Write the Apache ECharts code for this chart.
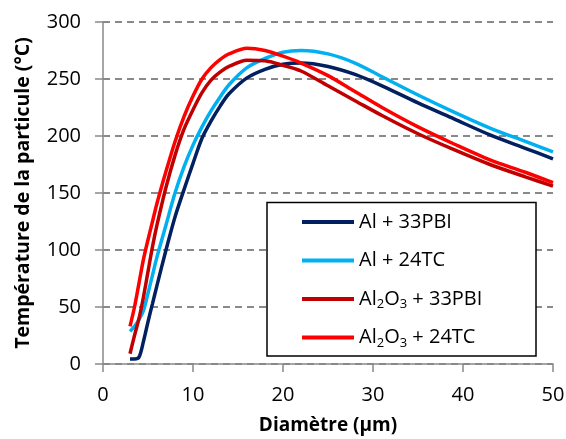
<!DOCTYPE html>
<html>
<head>
<meta charset="utf-8">
<script src="https://cdn.jsdelivr.net/npm/echarts@6/dist/echarts.min.js"></script>
<style>
html,body{margin:0;padding:0;background:#fff;}
#c{width:566px;height:439px;}
</style>
</head>
<body>
<div id="c"></div>
<script>
const xs = [3, 3.5, 4, 4.5, 5, 5.5, 6, 7, 8, 9, 10, 11, 12, 13, 14, 16, 18, 20, 22, 25, 28, 31, 35, 39, 43, 47, 50];
const al33pbi = [4.4, 4.4, 6, 20, 37, 53, 69, 100, 129, 153, 176, 198, 213, 226, 237, 251, 258.5, 263, 264, 261, 254, 244, 229, 215, 201, 189, 180];
const al24tc = [28.6, 33, 39, 47, 62, 78, 94, 122, 150, 173, 192, 208, 222, 234, 245, 260, 268, 273.5, 275, 272, 264, 252, 236, 221, 207, 195, 186];
const al2o3_33pbi = [9, 25, 40, 59, 81, 103, 122, 155, 183, 206, 223, 238, 249, 256, 261, 266.5, 266, 262, 257, 244, 231, 218, 202, 188, 175, 164, 156];
const al2o3_24tc = [33, 50, 71, 92, 109, 125, 141, 169, 195, 217, 235, 250, 260, 267, 272, 277, 275, 270, 264, 253, 239, 225, 208, 193, 179, 168, 159];
const seriesNames = ['Al + 33PBI', 'Al + 24TC', 'Al2O3 + 33PBI', 'Al2O3 + 24TC'];
const seriesLabels = ['Al + 33PBI', 'Al + 24TC', 'Al{sub|2}O{sub|3} + 33PBI', 'Al{sub|2}O{sub|3} + 24TC'];
const seriesData = [al33pbi, al24tc, al2o3_33pbi, al2o3_24tc];
const colors = ['#002060', '#00B0F0', '#C00000', '#FF0000'];
const xTitle = 'Diamètre (µm)';
const yTitle = 'Température de la particule (°C)';

const font = 'Open Sans';
const chart = echarts.init(document.getElementById('c'), null, {renderer: 'canvas'});
const series = seriesData.map((d, i) => ({
  name: seriesNames[i],
  type: 'line',
  data: xs.map((x, j) => [x, d[j]]),
  smooth: 0.3,
  showSymbol: false,
  symbol: 'none',
  lineStyle: {color: colors[i], width: 3.5},
  itemStyle: {color: colors[i]},
  z: 2
}));
chart.setOption({
  animation: false,
  backgroundColor: '#fff',
  grid: {left: 103, right: 13, top: 22, bottom: 75, containLabel: false, outerBoundsMode: 'none'},
  xAxis: {
    type: 'value', min: 0, max: 50, interval: 10,
    name: xTitle, nameLocation: 'middle', nameGap: 52,
    nameTextStyle: {fontFamily: font, fontWeight: 'bold', fontSize: 19, color: '#000'},
    axisLine: {show: true, lineStyle: {color: '#898989', width: 1.5}},
    axisTick: {show: true, length: 8, lineStyle: {color: '#898989', width: 1.5}},
    axisLabel: {fontFamily: font, fontSize: 20, color: '#000', margin: 21},
    splitLine: {show: false}
  },
  yAxis: {
    type: 'value', min: 0, max: 300, interval: 50,
    name: yTitle, nameLocation: 'middle', nameGap: 70,
    nameTextStyle: {fontFamily: font, fontWeight: 'bold', fontSize: 19.5, color: '#000'},
    axisLine: {show: true, lineStyle: {color: '#898989', width: 1.5}},
    axisTick: {show: true, length: 8, lineStyle: {color: '#898989', width: 1.5}},
    axisLabel: {fontFamily: font, fontSize: 20, color: '#000', margin: 22},
    splitLine: {show: true, lineStyle: {color: '#898989', width: 2, type: [7, 5]}}
  },
  graphic: [{
    type: 'rect', z: 3,
    shape: {x: 267, y: 202.5, width: 269, height: 153.5},
    style: {fill: '#fff', stroke: '#000', lineWidth: 1.5}
  }],
  legend: {
    z: 5,
    orient: 'vertical', left: 302, top: 210,
    itemWidth: 52, itemHeight: 20, itemGap: 14.5,
    icon: 'path://M0,0 L52,0 L52,4 L0,4 Z',
    padding: 0,
    data: seriesNames,
    formatter: function (name) { return seriesLabels[seriesNames.indexOf(name)]; },
    textStyle: {
      fontFamily: font, fontSize: 20, color: '#000', lineHeight: 24,
      rich: {sub: {fontFamily: font, fontSize: 13, lineHeight: 13, verticalAlign: 'bottom', color: '#000'}}
    }
  },
  series: series
});
</script>
</body>
</html>
